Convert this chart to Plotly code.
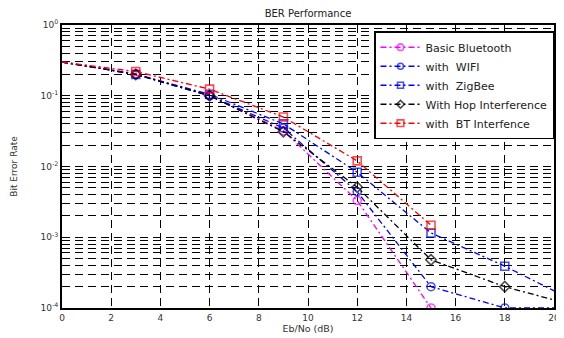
import math
import plotly.graph_objects as go

ebno = [0, 3, 6, 9, 12, 15, 18, 20]
ebno_short = [0, 3, 6, 9, 12, 15]

basic_bt = [0.3, 0.205, 0.102, 0.032, 0.0033, 0.0001]
with_wifi = [0.3, 0.2, 0.1, 0.035, 0.0044, 0.0002, 0.0001, 0.0001]
with_zigbee = [0.3, 0.2, 0.105, 0.04, 0.0083, 0.00115, 0.00039, 0.000175]
with_hop = [0.3, 0.2, 0.1, 0.031, 0.0051, 0.00048, 0.0002, 0.00013]
with_bt = [0.3, 0.22, 0.124, 0.05, 0.012, 0.00148]

series = [
    ("Basic Bluetooth", ebno_short, basic_bt, "#ff00ff", "circle-open"),
    ("with  WIFI", ebno, with_wifi, "#0000ff", "circle-open"),
    ("with  ZigBee", ebno, with_zigbee, "#0000ff", "square-open"),
    ("With Hop Interference", ebno, with_hop, "#000000", "diamond-open"),
    ("with  BT Interfence", ebno_short, with_bt, "#ff0000", "square-open"),
]

fig = go.Figure()
for name, xs, ys, col, sym in series:
    sizes = [0 if (x == 0 or x == 20) else 8 for x in xs]
    fig.add_trace(go.Scatter(
        x=xs, y=ys, name=name, mode="lines+markers",
        line=dict(color=col, width=1.3, dash="6px,3px,2px,3px"),
        marker=dict(symbol=sym, size=sizes, color=col, line=dict(color=col, width=1.6)),
    ))

grid_vals = []
for e in range(-4, 0):
    for m in range(1, 10):
        grid_vals.append(m * 10 ** e)
grid_vals.append(1.0)
tick_text = []
for v in grid_vals:
    lg = math.log10(v)
    if abs(lg - round(lg)) < 1e-9:
        tick_text.append("10<sup>%d</sup>" % round(lg))
    else:
        tick_text.append("")

font = "DejaVu Sans, Liberation Sans, sans-serif"
# page body adds an 8px offset; figure size / margins compensate for it
fig.update_layout(
    width=556, height=330,
    margin=dict(l=54, r=4, t=17, b=30),
    paper_bgcolor="white", plot_bgcolor="white",
    title=dict(text="BER Performance", x=0.5, xref="paper", xanchor="center",
               y=1 - 5 / 330, yanchor="middle",
               font=dict(family=font, size=10, color="#222")),
    font=dict(family=font, size=9, color="#333"),
    showlegend=True,
    legend=dict(x=1.0, xanchor="right", y=0.978, yanchor="top",
                bgcolor="white", bordercolor="black", borderwidth=1.5,
                font=dict(family=font, size=11, color="#222"),
                tracegroupgap=0, itemwidth=40),
    xaxis=dict(range=[0, 20], dtick=2, tick0=0, showgrid=True, gridcolor="black",
               griddash="8px,5px", gridwidth=1, zeroline=False,
               showline=True, linecolor="black", linewidth=2, mirror=True,
               ticks="", ticklen=0,
               title=dict(text="Eb/No (dB)", font=dict(family=font, size=9.5, color="#333"), standoff=3)),
    yaxis=dict(type="log", range=[-4, 0], tickvals=grid_vals, ticktext=tick_text,
               showgrid=True, gridcolor="black", griddash="8px,5px", gridwidth=1,
               zeroline=False, showline=True, linecolor="black", linewidth=2, mirror=True,
               ticks="",
               title=dict(text="Bit Error Rate", font=dict(family=font, size=9, color="#333"), standoff=21)),
)

fig.write_html("out.html")
